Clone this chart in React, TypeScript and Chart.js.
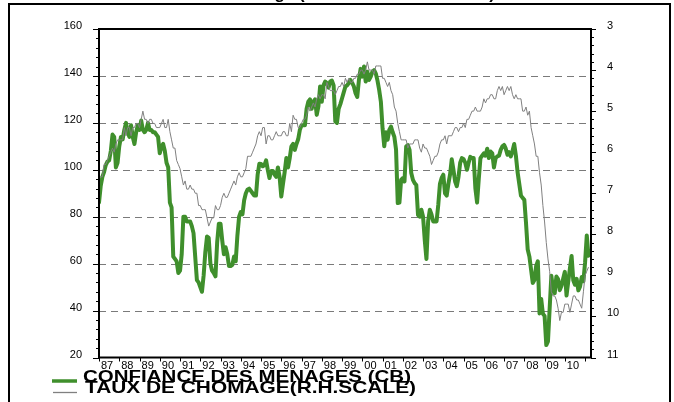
import React, { useEffect, useRef } from "react";
import { Chart, registerables } from "chart.js";

Chart.register(...registerables);

// ---- data (monthly, Jan 1987 = index 0) ----
const yearLabels = ["87","88","89","90","91","92","93","94","95","96","97","98","99","00","01","02","03","04","05","06","07","08","09","10"];

const confiance = [
  86, 93, 97, 99, 102, 103.5, 104, 108, 115, 114, 101, 103,
  110, 114, 113, 117, 120, 116, 114, 119, 114, 111, 116, 119,
  117, 121, 117, 116, 117, 120, 117, 117, 116, 116, 115, 114,
  107, 110, 111, 108, 103, 101, 86, 84, 63, 62, 61, 56,
  57, 64, 80, 80, 78, 78, 78, 76, 73, 63, 53, 52,
  50, 48, 55, 65, 71.6, 71, 60, 57, 56, 54.6, 69, 77,
  77, 70, 64, 67, 64, 59, 59, 59.5, 63, 61, 72, 80,
  82, 81, 87, 90, 91.5, 92, 91, 90, 89, 89, 98, 102.6,
  102.5, 101.5, 102, 104, 100, 96.5, 99.5, 99.5, 98, 97, 101, 97,
  88.6, 94, 99, 105, 101, 105, 110, 111, 108.5, 111, 113, 117,
  119, 119, 119, 126, 129, 130, 126, 129, 130, 123.4, 127, 135.5,
  129, 136, 137.6, 137, 135, 137.6, 138, 136, 120.6, 120, 126, 128,
  130.5, 133, 135.5, 136, 137, 138.3, 137, 135.5, 132.6, 131, 138.3, 143,
  139.7, 144, 137.6, 141.8, 138.3, 139.7, 141.8, 142.5, 141, 138, 134, 129,
  117.7, 110, 116, 112.8, 117, 118.4, 116, 114, 108.5, 85.8, 86, 95.7,
  96.5, 95, 110, 110.5, 108.5, 98.6, 95.7, 94.3, 93.5, 80.8, 80, 83,
  80, 70, 62, 78, 83, 81, 78, 78, 78, 85, 94, 96.5,
  97.9, 90, 89, 94, 98, 104.5, 100, 95, 93, 97, 103, 105,
  104.5, 103, 100, 103, 105.5, 105, 105, 92, 86, 96, 105, 106,
  107, 106, 109, 105, 107.8, 107, 101, 105, 105.7, 106, 108.5, 110,
  110.6, 109, 106.4, 107.5, 105.7, 108, 111, 106, 99, 94, 89, 88,
  87.2, 77.3, 66, 63, 57.4, 51.8, 53, 59, 61, 38.8, 44.9, 38.6,
  37.7, 25.3, 26.9, 40.8, 54.8, 49.3, 47.4, 54.5, 53.4, 48.7, 50.6, 53.6,
  56.5, 46.4, 52.3, 57.9, 63.3, 52.9, 51.0, 53.5, 48.6, 50.2, 54.3, 52.5,
  60.6, 72, 63.4, 65.4,
];

const chomage = [
  6.6, 6.6, 6.6, 6.3, 6.3, 6.2, 6.1, 6.0, 5.9, 6.0, 5.8, 5.7,
  5.7, 5.7, 5.7, 5.4, 5.6, 5.4, 5.4, 5.6, 5.4, 5.4, 5.3, 5.3,
  5.4, 5.2, 5.0, 5.2, 5.2, 5.3, 5.2, 5.2, 5.3, 5.3, 5.4, 5.4,
  5.4, 5.3, 5.2, 5.4, 5.4, 5.2, 5.5, 5.7, 5.9, 5.9, 6.2, 6.3,
  6.4, 6.6, 6.8, 6.7, 6.9, 6.9, 6.8, 6.9, 6.9, 7.0, 7.0, 7.3,
  7.3, 7.4, 7.4, 7.4, 7.6, 7.8, 7.7, 7.6, 7.6, 7.3, 7.4, 7.4,
  7.3, 7.1, 7.0, 7.1, 7.1, 7.0, 6.9, 6.8, 6.7, 6.8, 6.6, 6.5,
  6.6, 6.6, 6.5, 6.4, 6.1, 6.1, 6.1, 6.0, 5.9, 5.8, 5.6, 5.5,
  5.6, 5.4, 5.4, 5.8, 5.6, 5.6, 5.7, 5.7, 5.6, 5.5, 5.6, 5.6,
  5.6, 5.5, 5.5, 5.6, 5.6, 5.3, 5.5, 5.1, 5.2, 5.2, 5.4, 5.4,
  5.3, 5.2, 5.2, 5.1, 4.9, 5.0, 4.9, 4.8, 4.9, 4.7, 4.6, 4.7,
  4.6, 4.6, 4.7, 4.3, 4.4, 4.5, 4.5, 4.5, 4.6, 4.5, 4.4, 4.4,
  4.3, 4.4, 4.2, 4.3, 4.2, 4.3, 4.3, 4.2, 4.2, 4.1, 4.1, 4.0,
  4.0, 4.1, 4.0, 3.8, 4.0, 4.0, 4.0, 4.1, 3.9, 3.9, 3.9, 3.9,
  4.2, 4.2, 4.3, 4.4, 4.3, 4.5, 4.6, 4.9, 5.0, 5.3, 5.5, 5.7,
  5.7, 5.7, 5.7, 5.9, 5.8, 5.8, 5.8, 5.7, 5.7, 5.7, 5.9, 6.0,
  5.8, 5.9, 5.9, 6.0, 6.1, 6.3, 6.2, 6.1, 6.1, 6.0, 5.8, 5.7,
  5.7, 5.6, 5.8, 5.6, 5.6, 5.6, 5.5, 5.4, 5.4, 5.5, 5.4, 5.4,
  5.3, 5.4, 5.2, 5.2, 5.1, 5.0, 5.0, 4.9, 5.0, 5.0, 5.0, 4.9,
  4.7, 4.8, 4.7, 4.7, 4.6, 4.6, 4.7, 4.7, 4.5, 4.4, 4.5, 4.4,
  4.6, 4.5, 4.4, 4.5, 4.4, 4.6, 4.7, 4.6, 4.7, 4.7, 4.7, 5.0,
  5.0, 4.9, 5.1, 5.0, 5.4, 5.6, 5.8, 6.1, 6.1, 6.5, 6.8, 7.3,
  7.7, 8.2, 8.6, 8.9, 9.4, 9.5, 9.5, 9.6, 9.8, 10.1, 9.9, 9.9,
  9.7, 9.7, 9.7, 9.9, 9.7, 9.5, 9.5, 9.6, 9.6, 9.7, 9.8, 9.4,
  9.0, 8.9, 8.8,
];

const gridValues = [40, 60, 80, 100, 120, 140];
const legendLabels = ["CONFIANCE DES MENAGES (CB)", "TAUX DE CHOMAGE(R.H.SCALE)"];
const titlePrefix = "Confiance et chômage ";
const titleParen = "(ÉTATS-UNIS 1987-2011)";

const GREEN = "#3f8f2c";
const GRAY = "#808080";
const FONT = '"Liberation Sans", Arial, sans-serif';

const decoPlugin = {
  id: "deco",
  beforeDatasetsDraw(chart: any) {
    const { ctx, chartArea: a, scales } = chart;
    ctx.save();
    ctx.strokeStyle = "#7a7a7a";
    ctx.lineWidth = 1;
    ctx.setLineDash([7, 5]);
    for (const v of gridValues) {
      const py = Math.round(scales.y.getPixelForValue(v)) + 0.5;
      ctx.beginPath();
      ctx.moveTo(a.left, py);
      ctx.lineTo(a.right, py);
      ctx.stroke();
    }
    ctx.restore();
  },
  afterDraw(chart: any) {
    const { ctx, chartArea: a, scales } = chart;
    ctx.save();
    ctx.setLineDash([]);
    ctx.strokeStyle = "#000";
    // plot frame
    ctx.lineWidth = 2;
    ctx.strokeRect(a.left, a.top, a.right - a.left, a.bottom - a.top);
    // tick marks
    ctx.lineWidth = 1;
    ctx.beginPath();
    for (let v = 20; v <= 160; v += 4) {
      const py = Math.round(scales.y.getPixelForValue(v)) + 0.5;
      const len = v % 20 === 0 ? 6 : 3;
      ctx.moveTo(a.left - len, py);
      ctx.lineTo(a.left, py);
    }
    for (let k = 0; k <= 40; k++) {
      const v = 3 + k * 0.2;
      const py = Math.round(scales.y1.getPixelForValue(v)) + 0.5;
      const len = k % 5 === 0 ? 5 : 3;
      ctx.moveTo(a.right, py);
      ctx.lineTo(a.right + len, py);
    }
    for (let k = 0; k <= yearLabels.length; k++) {
      const px = Math.round(scales.x.getPixelForValue(k * 12)) + 0.5;
      if (px > a.right + 1) continue;
      ctx.moveTo(px, a.bottom);
      ctx.lineTo(px, a.bottom + 4);
    }
    ctx.stroke();

    // outer frame
    ctx.lineWidth = 2;
    ctx.beginPath();
    ctx.moveTo(9, 402);
    ctx.lineTo(9, 4);
    ctx.lineTo(670, 4);
    ctx.lineTo(670, 402);
    ctx.stroke();

    // title (mostly cut off above the frame)
    ctx.fillStyle = "#000";
    ctx.font = `bold 20px ${FONT}`;
    const pw = ctx.measureText(titleParen).width;
    const size = (20 * 196) / pw;
    ctx.font = `bold ${size}px ${FONT}`;
    const prefW = ctx.measureText(titlePrefix).width;
    ctx.textBaseline = "alphabetic";
    ctx.textAlign = "left";
    ctx.fillText(titlePrefix + titleParen, 299 - prefW, -1);

    // legend
    ctx.strokeStyle = GREEN;
    ctx.lineWidth = 3.5;
    ctx.beginPath();
    ctx.moveTo(52, 381);
    ctx.lineTo(77, 381);
    ctx.stroke();
    ctx.strokeStyle = GRAY;
    ctx.lineWidth = 1.3;
    ctx.beginPath();
    ctx.moveTo(53, 392.5);
    ctx.lineTo(77, 392.5);
    ctx.stroke();

    const drawStretched = (text: string, x0: number, x1: number, base: number) => {
      ctx.save();
      ctx.font = `bold 16.3px ${FONT}`;
      const w = ctx.measureText(text).width;
      ctx.translate(x0, base);
      ctx.scale((x1 - x0) / w, 1);
      ctx.fillStyle = "#000";
      ctx.fillText(text, 0, 0);
      ctx.restore();
    };
    drawStretched(legendLabels[0], 83, 411, 381.7);
    drawStretched(legendLabels[1], 85, 416, 392.7);
    ctx.restore();
  },
};

export default function App() {
  const ref = useRef<HTMLCanvasElement | null>(null);

  useEffect(() => {
    if (!ref.current) return;
    const tickFont = { family: FONT, size: 11 };
    const chart = new Chart(ref.current, {
      type: "line",
      data: {
        datasets: [
          {
            label: legendLabels[1],
            data: chomage.map((v, i) => ({ x: i, y: v })),
            yAxisID: "y1",
            borderColor: GRAY,
            borderWidth: 1,
            pointRadius: 0,
            tension: 0,
            order: 0,
          },
          {
            label: legendLabels[0],
            data: confiance.map((v, i) => ({ x: i, y: v })),
            yAxisID: "y",
            borderColor: GREEN,
            borderWidth: 4,
            borderJoinStyle: "round",
            borderCapStyle: "round",
            pointRadius: 0,
            tension: 0,
            order: 1,
          },
        ],
      },
      options: {
        responsive: false,
        maintainAspectRatio: false,
        devicePixelRatio: 1,
        animation: false,
        layout: { padding: { top: 29, left: 0, right: 0, bottom: 0 } },
        plugins: { legend: { display: false }, tooltip: { enabled: false }, title: { display: false } },
        scales: {
          x: {
            type: "linear",
            min: 0,
            max: 291.5,
            grid: { display: false },
            border: { display: false },
            afterBuildTicks: (s: any) => {
              s.ticks = yearLabels.map((_, k) => ({ value: k * 12 }));
            },
            afterFit: (s: any) => {
              s.height = 44.5;
            },
            ticks: {
              autoSkip: false,
              maxRotation: 0,
              minRotation: 0,
              align: "start",
              labelOffset: 2,
              padding: -6,
              color: "#000",
              font: tickFont,
              callback: (v: any) => yearLabels[Math.round(Number(v) / 12)] ?? "",
            },
          },
          y: {
            type: "linear",
            position: "left",
            min: 20,
            max: 160,
            grid: { display: false },
            border: { display: false },
            afterFit: (s: any) => {
              s.width = 99;
            },
            ticks: { stepSize: 20, padding: 9, labelOffset: -3, color: "#000", font: tickFont },
          },
          y1: {
            type: "linear",
            position: "right",
            min: 3,
            max: 11,
            reverse: true,
            grid: { display: false },
            border: { display: false },
            afterFit: (s: any) => {
              s.width = 83;
            },
            ticks: { stepSize: 1, padding: 8, labelOffset: -3, color: "#000", font: tickFont },
          },
        },
      },
      plugins: [decoPlugin],
    } as any);
    return () => chart.destroy();
  }, []);

  return (
    <div style={{ position: "fixed", left: 0, top: 0, width: 674, height: 402, background: "#fff" }}>
      <canvas ref={ref} width={674} height={402} style={{ display: "block", width: 674, height: 402 }} />
    </div>
  );
}
